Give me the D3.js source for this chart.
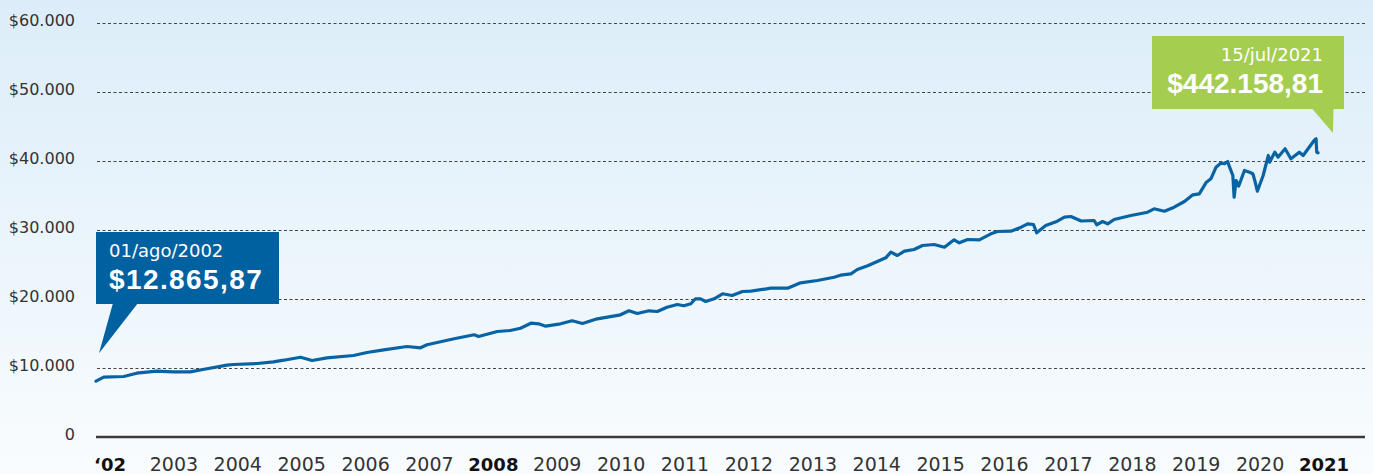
<!DOCTYPE html>
<html>
<head>
<meta charset="utf-8">
<script src="https://cdn.jsdelivr.net/npm/d3@7"></script>
<style>
html,body{margin:0;padding:0;background:#fff;}
svg{display:block;}
</style>
</head>
<body>
<svg id="chart" width="1373" height="474"></svg>
<script>
// ---- Data ----
const dates = [2002.58,2002.70,2003.01,2003.21,2003.52,2003.78,2004.04,2004.30,2004.61,2004.71,
  2005.08,2005.33,2005.49,2005.75,2005.93,2006.16,2006.57,2006.78,2007.04,2007.40,
  2007.61,2007.71,2008.13,2008.44,2008.51,2008.80,2009.00,2009.16,2009.32,2009.44,
  2009.55,2009.78,2009.96,2010.12,2010.35,2010.71,2010.84,2010.97,2011.15,2011.28,
  2011.43,2011.59,2011.69,2011.80,2011.87,2011.95,2012.03,2012.16,2012.29,2012.44,
  2012.60,2012.73,2013.04,2013.30,2013.50,2013.76,2014.02,2014.12,2014.28,2014.38,
  2014.54,2014.69,2014.82,2014.90,2015.00,2015.11,2015.26,2015.39,2015.57,2015.73,
  2015.88,2015.96,2016.09,2016.27,2016.45,2016.55,2016.76,2016.92,2017.02,2017.11,
  2017.16,2017.30,2017.46,2017.59,2017.69,2017.77,2017.85,2018.05,2018.09,2018.18,
  2018.26,2018.36,2018.62,2018.88,2018.98,2019.14,2019.29,2019.45,2019.58,2019.68,
  2019.79,2019.86,2019.94,2020.02,2020.07,2020.12,2020.15,2020.20,2020.22,2020.25,
  2020.29,2020.38,2020.46,2020.51,2020.54,2020.58,2020.67,2020.75,2020.77,2020.85,
  2020.90,2021.01,2021.10,2021.23,2021.29,2021.46,2021.49,2021.50,2021.52];
const values = [8087,8667,8768,9246,9536,9449,9449,9884,10406,10507,
  10652,10899,11130,11565,11087,11478,11812,12246,12638,13116,
  12928,13362,14232,14812,14565,15290,15435,15768,16493,16406,
  16058,16406,16841,16449,17130,17710,18290,17899,18290,18188,
  18812,19203,19014,19304,20029,20029,19638,20029,20754,20507,
  21087,21130,21565,21565,22348,22681,23159,23449,23652,24275,
  24812,25435,25971,26783,26304,26928,27174,27754,27899,27507,
  28580,28145,28623,28580,29449,29783,29826,30406,30899,30797,
  29594,30652,31188,31855,31957,31623,31304,31377,30754,31232,
  30899,31522,32101,32580,33072,32725,33304,34130,35101,35246,
  36928,37420,39101,39739,39594,39928,39101,37899,34754,37174,
  36348,38623,38377,38145,37174,35623,37899,40797,39826,41275,
  40551,41768,40319,41275,40797,42971,43217,41275,41188];
const yTicks = [0,10000,20000,30000,40000,50000,60000];
const yTickLabels = ["0","$10.000","$20.000","$30.000","$40.000","$50.000","$60.000"];
const xLabels = ["‘02","2003","2004","2005","2006","2007","2008","2009","2010","2011",
  "2012","2013","2014","2015","2016","2017","2018","2019","2020","2021"];
const boldLabels = ["‘02","2008","2021"];
const startCallout = {date:"01/ago/2002", value:"$12.865,87"};
const endCallout = {date:"15/jul/2021", value:"$442.158,81"};

// ---- Drawing ----
const svg = d3.select("#chart");
const W = 1373, H = 474;
const defs = svg.append("defs");
const grad = defs.append("linearGradient").attr("id","bg").attr("x1",0).attr("y1",0).attr("x2",0).attr("y2",1);
grad.append("stop").attr("offset","0%").attr("stop-color","#dcedf9");
grad.append("stop").attr("offset","100%").attr("stop-color","#f9fcfe");
svg.append("rect").attr("width",W).attr("height",H).attr("fill","url(#bg)");

const x = d3.scaleLinear().domain([dates[0], dates[dates.length-1]]).range([96, 1318]);
const y = d3.scaleLinear().domain([0, 60000]).range([437, 23]);
const xl = d3.scalePoint().domain(xLabels).range([110, 1324]);

const axisFont = "'DejaVu Sans ExtraLight','DejaVu Sans',sans-serif";

// gridlines
svg.append("g").selectAll("line").data(yTicks.filter(d=>d>0)).join("line")
  .attr("x1",97).attr("x2",1365)
  .attr("y1",d=>Math.round(y(d))+0.5).attr("y2",d=>Math.round(y(d))+0.5)
  .attr("stroke","#444").attr("stroke-width",1).attr("stroke-dasharray","3,2.5");

// y labels
svg.append("g").selectAll("text").data(yTicks).join("text")
  .attr("x",75).attr("y",d=>y(d)+2.5)
  .attr("text-anchor","end")
  .attr("font-family",axisFont).attr("font-size",16).attr("fill","#333")
  .text((d,i)=>yTickLabels[i]);

// baseline
svg.append("line").attr("x1",96).attr("x2",1365).attr("y1",y(0)).attr("y2",y(0))
  .attr("stroke","#3a3a3a").attr("stroke-width",2.5);

// x labels
svg.append("g").selectAll("text").data(xLabels).join("text")
  .attr("x",d=>xl(d)).attr("y",471)
  .attr("text-anchor","middle")
  .attr("font-family",d=>boldLabels.includes(d)?"'DejaVu Sans',sans-serif":axisFont)
  .attr("font-weight",d=>boldLabels.includes(d)?"bold":"normal")
  .attr("font-size",d=>boldLabels.includes(d)?18:19)
  .attr("fill",d=>boldLabels.includes(d)?"#111":"#333")
  .text(d=>d);

// line
const pts = dates.map((d,i)=>[d, values[i]]);
svg.append("path").datum(pts)
  .attr("d", d3.line().x(d=>x(d[0])).y(d=>y(d[1])))
  .attr("fill","none").attr("stroke","#0863a4").attr("stroke-width",3.2)
  .attr("stroke-linejoin","round").attr("stroke-linecap","round");

// start callout (blue)
const sx = x(dates[0]), sy = y(values[0]);
const cb = svg.append("g");
cb.append("rect").attr("x",96).attr("y",232).attr("width",183).attr("height",72).attr("fill","#0061a0");
cb.append("path").attr("d",`M113,303 L138,303 L${sx+3},${sy-28} Z`).attr("fill","#0061a0");
cb.append("text").attr("x",109).attr("y",256.5)
  .attr("font-family",axisFont).attr("font-size",18).attr("fill","#fff").text(startCallout.date);
cb.append("text").attr("x",109).attr("y",289)
  .attr("font-family","'Liberation Sans',Arial,sans-serif").attr("font-weight","bold")
  .attr("font-size",28).attr("letter-spacing",1.4).attr("fill","#fff").text(startCallout.value);

// end callout (green)
const cg = svg.append("g");
cg.append("rect").attr("x",1152).attr("y",36).attr("width",192).attr("height",73).attr("fill","#a5cd50");
cg.append("path").attr("d",`M1311.5,108 L1333.5,108 L1333,133 Z`).attr("fill","#a5cd50");
cg.append("text").attr("x",1323).attr("y",60.5).attr("text-anchor","end")
  .attr("font-family",axisFont).attr("font-size",18).attr("fill","#fff").text(endCallout.date);
cg.append("text").attr("x",1323).attr("y",92.5).attr("text-anchor","end")
  .attr("font-family","'Liberation Sans',Arial,sans-serif").attr("font-weight","bold")
  .attr("font-size",28).attr("fill","#fff").text(endCallout.value);
</script>
</body>
</html>
